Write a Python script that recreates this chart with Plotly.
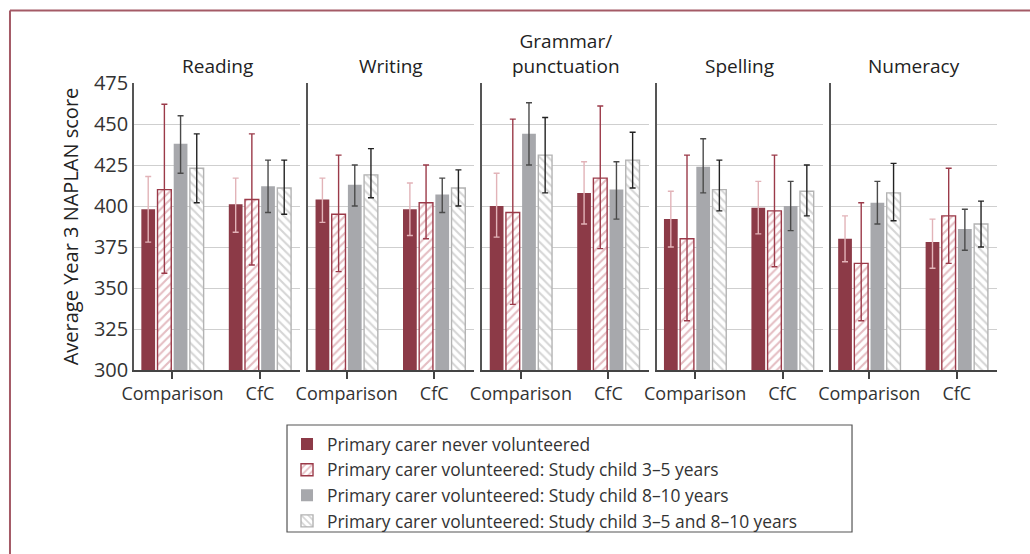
import plotly.graph_objects as go
from plotly.subplots import make_subplots

subjects = ["Reading", "Writing", "Grammar/<br>punctuation", "Spelling", "Numeracy"]
groups = ["Comparison", "CfC"]
y_ticks = [300, 325, 350, 375, 400, 425, 450, 475]

series_names = [
    "Primary carer never volunteered",
    "Primary carer volunteered: Study child 3\u20135 years",
    "Primary carer volunteered: Study child 8\u201310 years",
    "Primary carer volunteered: Study child 3\u20135 and 8\u201310 years",
]

# mean score per subject, [Comparison, CfC]
never_mean = [[398, 401], [404, 398], [400, 408], [392, 399], [380, 378]]
never_hi = [[418, 417], [417, 414], [420, 427], [409, 415], [394, 392]]
never_lo = [[378, 384], [390, 382], [381, 389], [375, 383], [366, 362]]

child35_mean = [[410, 404], [395, 402], [396, 417], [380, 397], [365, 394]]
child35_hi = [[462, 444], [431, 425], [453, 461], [431, 431], [402, 423]]
child35_lo = [[359, 364], [360, 380], [340, 374], [330, 363], [330, 365]]

child810_mean = [[438, 412], [413, 407], [444, 410], [424, 400], [402, 386]]
child810_hi = [[455, 428], [425, 417], [463, 427], [441, 415], [415, 398]]
child810_lo = [[420, 396], [400, 396], [425, 392], [408, 385], [389, 373]]

both_mean = [[423, 411], [419, 411], [431, 428], [410, 409], [408, 389]]
both_hi = [[444, 428], [435, 422], [454, 445], [428, 425], [426, 403]]
both_lo = [[402, 395], [405, 400], [408, 411], [397, 394], [391, 375]]

series = [
    (never_mean, never_hi, never_lo),
    (child35_mean, child35_hi, child35_lo),
    (child810_mean, child810_hi, child810_lo),
    (both_mean, both_hi, both_lo),
]

maroon = "#8c3a47"
styles = [
    dict(marker=dict(color=maroon, line=dict(width=0)), err="#e2b3b8"),
    dict(marker=dict(color="white", line=dict(color="#9b3a49", width=1.4),
                     pattern=dict(shape="/", fgcolor="#c97b86", bgcolor="white", size=6, solidity=0.35)),
         err="#9b3a49"),
    dict(marker=dict(color="#a7a8ac", line=dict(width=0)), err="#4a4a4a"),
    dict(marker=dict(color="white", line=dict(color="#b3b3b3", width=1.4),
                     pattern=dict(shape="\\", fgcolor="#acacac", bgcolor="white", size=6, solidity=0.35)),
         err="#222222"),
]

font = "Open Sans, Noto Sans, sans-serif"

fig = make_subplots(rows=1, cols=5, shared_yaxes=True, horizontal_spacing=0.0093,
                    subplot_titles=subjects)

for s, (mean, hi, lo) in enumerate(series):
    st = styles[s]
    for c in range(5):
        fig.add_trace(go.Bar(
            x=groups, y=mean[c],
            name=series_names[s], legendgroup=series_names[s], showlegend=(c == 0),
            marker=st["marker"],
            error_y=dict(type="data", symmetric=False,
                         array=[hi[c][i] - mean[c][i] for i in range(2)],
                         arrayminus=[mean[c][i] - lo[c][i] for i in range(2)],
                         color=st["err"], thickness=1.4, width=3),
        ), row=1, col=c + 1)

fig.update_xaxes(range=[-0.44, 1.46], showline=True, linecolor="#444", linewidth=1.5,
                 ticks="outside", ticklen=7, tickcolor="#444", tickwidth=1.5,
                 tickfont=dict(size=18, color="#333"), showgrid=False)
fig.update_yaxes(range=[300, 475], tickvals=y_ticks, showline=True, linecolor="#555",
                 linewidth=1.5, gridcolor="#cfcfcf", gridwidth=1, zeroline=False,
                 tickfont=dict(size=20, color="#333"))
fig.update_yaxes(title=dict(text="Average Year 3 NAPLAN score", font=dict(size=20, color="#222"), standoff=10),
                 row=1, col=1)

for ann in fig.layout.annotations:
    ann.font = dict(size=19, color="#222", family=font)
    ann.yshift = 2

# outer frame (top and left edges visible)
fig.add_shape(type="line", xref="paper", yref="paper", x0=-0.1437, x1=1.1, y0=1.2526, y1=1.2526,
              line=dict(color="#a45a66", width=2))
fig.add_shape(type="line", xref="paper", yref="paper", x0=-0.1437, x1=-0.1437, y0=-0.7, y1=1.2526,
              line=dict(color="#a45a66", width=2))
# legend box
fig.add_shape(type="rect", xref="paper", yref="paper", x0=0.1773, x1=0.832, y0=-0.5645, y1=-0.1916,
              line=dict(color="#555", width=1.2), fillcolor="rgba(0,0,0,0)")

fig.update_layout(
    width=1030, height=554,
    margin=dict(l=134, r=33, t=83, b=184),
    plot_bgcolor="white", paper_bgcolor="white",
    font=dict(family=font, color="#333"),
    barmode="group", bargap=0.26, bargroupgap=0.15,
    legend=dict(x=0.1773, y=-0.196, xanchor="left", yanchor="top",
                borderwidth=0, bgcolor="rgba(0,0,0,0)", font=dict(size=17.4, color="#333"),
                tracegroupgap=0),
)

fig.write_html("out.html", config={"displayModeBar": False},
               post_script="document.body.style.margin='0';")
